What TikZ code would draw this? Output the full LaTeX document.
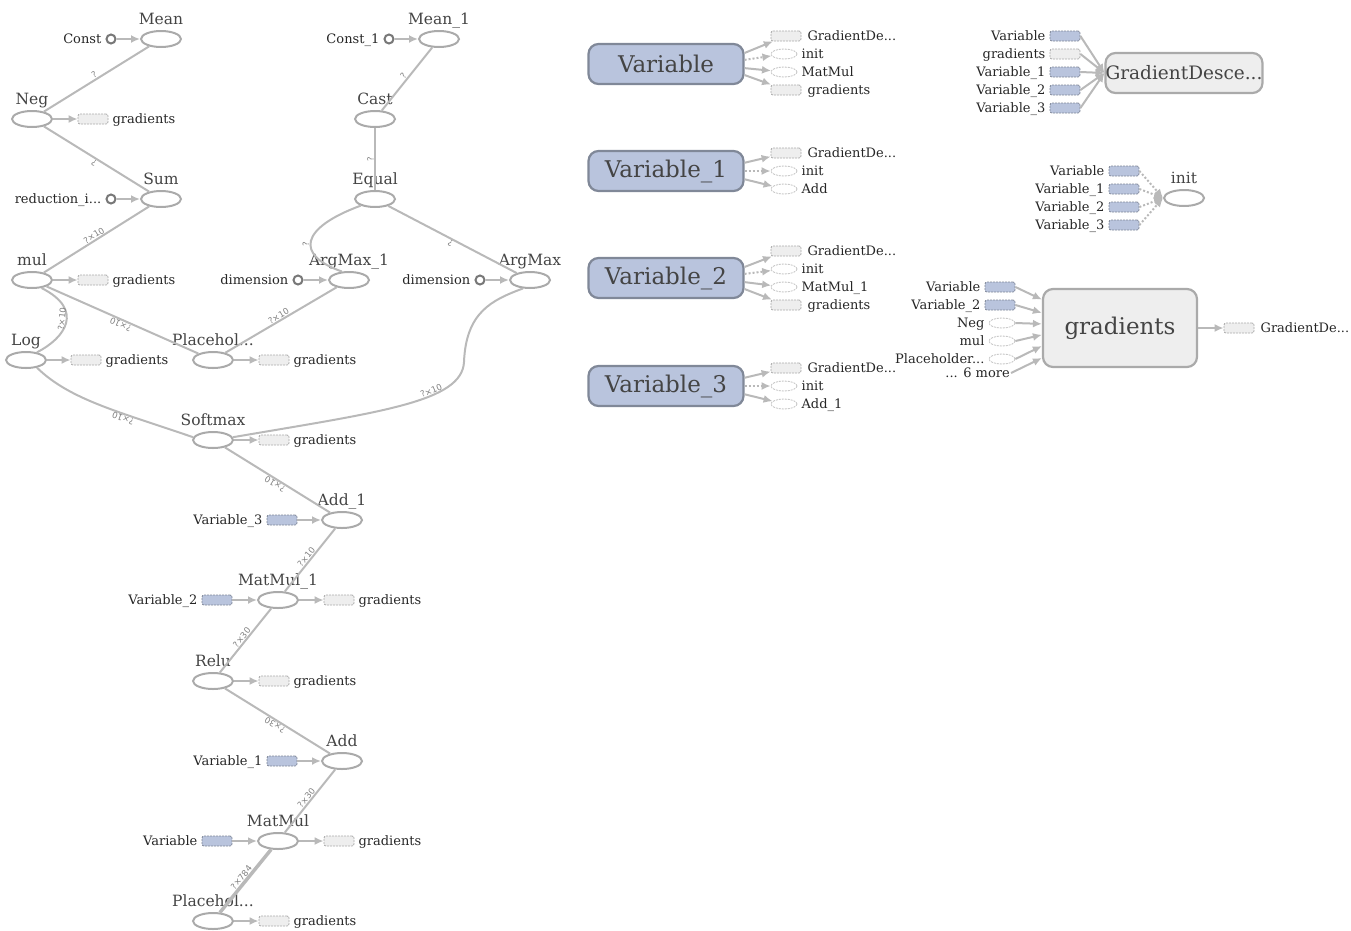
\documentclass[tikz,border=0pt]{standalone}
\usepackage{fontspec}
\setmainfont{DejaVu Serif}
\setsansfont{DejaVu Sans}
\usetikzlibrary{shapes.geometric,arrows.meta,positioning}
\definecolor{edgegray}{RGB}{185,185,185}
\definecolor{opgray}{RGB}{170,170,170}
\definecolor{cstgray}{RGB}{120,120,120}
\definecolor{boxfill}{RGB}{238,238,238}
\definecolor{varfill}{RGB}{185,196,221}
\definecolor{varline}{RGB}{128,136,152}
\definecolor{titlegray}{RGB}{68,68,68}
\begin{document}
\begin{tikzpicture}[
		x=1pt, y=-1pt,
		op/.style = {draw=opgray, ellipse, line width=2pt, minimum width=40pt, minimum height=16pt, inner sep=0pt},
		cst/.style = {draw=cstgray, circle, line width=2pt, minimum size=9pt, inner sep=0pt},
		gbox/.style = {draw=opgray, fill=boxfill, rounded corners=2pt, line width=0.8pt, dash pattern=on 2pt off 1pt, minimum width=30pt, minimum height=10pt, inner sep=0pt},
		vbox/.style = {gbox, draw=varline, fill=varfill},
		gell/.style = {draw=opgray!70, fill=white, ellipse, line width=0.8pt, dash pattern=on 2pt off 1pt, minimum width=26pt, minimum height=10pt, inner sep=0pt},
		varnode/.style = {draw=varline, fill=varfill, rounded corners=10pt, line width=2.2pt, minimum width=155pt, minimum height=40pt, text=titlegray, font=\fontsize{23}{23}\selectfont},
		meta/.style = {draw=opgray, fill=boxfill, rounded corners=10pt, line width=2.2pt, text=titlegray},
		title/.style = {text=titlegray, font=\fontsize{15.5}{16}\selectfont, inner sep=1pt, text height=11pt, text depth=4pt},
		txt/.style = {text=black!85, font=\fontsize{13}{14}\selectfont, inner sep=1pt, text height=10pt, text depth=2pt},
		edge/.style = {draw=edgegray, line width=2pt},
		arr/.style = {edge, -{Latex[length=9pt,width=8pt]}},
		elab/.style = {text=gray, font=\sffamily\fontsize{8.5}{9}\selectfont, sloped, allow upside down, inner sep=0.5pt, above},
		label distance=0pt,
		]
		\useasboundingbox (0,0) rectangle (1351,930);
		% main graph
		\node[op, label={[title]above:Mean}] (mean) at (161,39) {};
		\node[cst, label={[txt,label distance=3pt]left:Const}] (const) at (111,39) {};
		\node[op, label={[title]above:Neg}] (neg) at (32,119) {};
		\node[gbox, label={[txt,label distance=3pt]right:gradients}] (g1) at (93,119) {};
		\node[op, label={[title]above:Sum}] (sum) at (161,199) {};
		\node[cst, label={[txt,label distance=3pt]left:reduction\_i...}] (red) at (111,199) {};
		\node[op, label={[title]above:mul}] (mul) at (32,280) {};
		\node[gbox, label={[txt,label distance=3pt]right:gradients}] (g2) at (93,280) {};
		\node[op, label={[title]above:Log}] (log) at (26,360) {};
		\node[gbox, label={[txt,label distance=3pt]right:gradients}] (g3) at (86,360) {};
		\node[op, label={[title]above:Placehol...}] (ph1) at (213,360) {};
		\node[gbox, label={[txt,label distance=3pt]right:gradients}] (g4) at (274,360) {};
		\node[op, label={[title]above:Softmax}] (softmax) at (213,440) {};
		\node[gbox, label={[txt,label distance=3pt]right:gradients}] (g5) at (274,440) {};
		\node[op, label={[title]above:Add\_1}] (add1) at (342,520) {};
		\node[vbox, label={[txt,label distance=3pt]left:Variable\_3}] (v3) at (282,520) {};
		\node[op, label={[title]above:MatMul\_1}] (mm1) at (278,600) {};
		\node[vbox, label={[txt,label distance=3pt]left:Variable\_2}] (v2) at (217,600) {};
		\node[gbox, label={[txt,label distance=3pt]right:gradients}] (g6) at (339,600) {};
		\node[op, label={[title]above:Relu}] (relu) at (213,681) {};
		\node[gbox, label={[txt,label distance=3pt]right:gradients}] (g7) at (274,681) {};
		\node[op, label={[title]above:Add}] (add) at (342,761) {};
		\node[vbox, label={[txt,label distance=3pt]left:Variable\_1}] (v1) at (282,761) {};
		\node[op, label={[title]above:MatMul}] (mm) at (278,841) {};
		\node[vbox, label={[txt,label distance=3pt]left:Variable}] (v0) at (217,841) {};
		\node[gbox, label={[txt,label distance=3pt]right:gradients}] (g8) at (339,841) {};
		\node[op, label={[title]above:Placehol...}] (ph2) at (213,921) {};
		\node[gbox, label={[txt,label distance=3pt]right:gradients}] (g9) at (274,921) {};
		\node[op, label={[title]above:Mean\_1}] (mean1) at (439,39) {};
		\node[cst, label={[txt,label distance=3pt]left:Const\_1}] (const1) at (389,39) {};
		\node[op, label={[title]above:Cast}] (cast) at (375,119) {};
		\node[op, label={[title]above:Equal}] (equal) at (375,199) {};
		\node[op, label={[title]above:ArgMax\_1}] (am1) at (349,280) {};
		\node[cst, label={[txt,label distance=3pt]left:dimension}] (dim1) at (298,280) {};
		\node[op, label={[title]above:ArgMax}] (am) at (530,280) {};
		\node[cst, label={[txt,label distance=3pt]left:dimension}] (dim2) at (480,280) {};

		\draw[arr] (const) -- (mean);
		\draw[arr] (red) -- (sum);
		\draw[arr] (const1) -- (mean1);
		\draw[arr] (dim1) -- (am1);
		\draw[arr] (dim2) -- (am);
		\draw[arr] (v3) -- (add1);
		\draw[arr] (v2) -- (mm1);
		\draw[arr] (v1) -- (add);
		\draw[arr] (v0) -- (mm);
		\foreach \a/\b in {neg/g1, mul/g2, log/g3, ph1/g4, softmax/g5, mm1/g6, relu/g7, mm/g8, ph2/g9}
			\draw[arr] (\a) -- (\b);

		\draw[edge] (neg) -- node[elab] {?} (mean);
		\draw[edge] (sum) -- node[elab] {?} (neg);
		\draw[edge] (mul) -- node[elab] {?×10} (sum);
		\draw[edge] (log.35) .. controls (65,338) and (85,310) .. node[elab, pos=0.55] {?×10} (mul.-40);
		\draw[edge] (ph1) -- node[elab] {?×10} (mul);
		\draw[edge] (softmax.172) .. controls (120,412) and (70,400) .. node[elab, pos=0.35] {?×10} (log.-35);
		\draw[edge] (ph1) -- node[elab] {?×10} (am1);
		\draw[edge] (softmax.8) .. controls (380,412) and (462,402) .. node[elab, pos=0.65] {?×10} (464,362) .. controls (466,312) and (492,300) .. (am.-130);
		\draw[edge] (add1) -- node[elab] {?×10} (softmax);
		\draw[edge] (mm1) -- node[elab] {?×10} (add1);
		\draw[edge] (relu) -- node[elab] {?×30} (mm1);
		\draw[edge] (add) -- node[elab] {?×30} (relu);
		\draw[edge] (mm) -- node[elab] {?×30} (add);
		\draw[edge, line width=3.5pt] (ph2) -- node[elab] {?×784} (mm);
		\draw[edge] (cast) -- node[elab] {?} (mean1);
		\draw[edge] (equal) -- node[elab] {?} (cast);
		\draw[edge] (am1.130) .. controls (295,255) and (300,228) .. node[elab, pos=0.45] {?} (equal.205);
		\draw[edge] (am) -- node[elab] {?} (equal);

		% variables
		\node[varnode] (var0) at (666,64) {Variable};
		\node[varnode] (var1) at (666,171) {Variable\_1};
		\node[varnode] (var2) at (666,278) {Variable\_2};
		\node[varnode] (var3) at (666,386) {Variable\_3};

		\node[gbox, label={[txt,label distance=5pt]right:GradientDe...}] (a1) at (786,36) {};
		\node[gell, label={[txt,label distance=3pt]right:init}] (a2) at (784,54) {};
		\node[gell, label={[txt,label distance=3pt]right:MatMul}] (a3) at (784,72) {};
		\node[gbox, label={[txt,label distance=5pt]right:gradients}] (a4) at (786,90) {};
		\draw[arr] (var0.8) -- (a1);
		\draw[arr, dotted] (var0.3) -- (a2);
		\draw[arr] (var0.-3) -- (a3);
		\draw[arr] (var0.-8) -- (a4);

		\node[gbox, label={[txt,label distance=5pt]right:GradientDe...}] (b1) at (786,153) {};
		\node[gell, label={[txt,label distance=3pt]right:init}] (b2) at (784,171) {};
		\node[gell, label={[txt,label distance=3pt]right:Add}] (b3) at (784,189) {};
		\draw[arr] (var1.6) -- (b1);
		\draw[arr, dotted] (var1.0) -- (b2);
		\draw[arr] (var1.-6) -- (b3);

		\node[gbox, label={[txt,label distance=5pt]right:GradientDe...}] (c1) at (786,251) {};
		\node[gell, label={[txt,label distance=3pt]right:init}] (c2) at (784,269) {};
		\node[gell, label={[txt,label distance=3pt]right:MatMul\_1}] (c3) at (784,287) {};
		\node[gbox, label={[txt,label distance=5pt]right:gradients}] (c4) at (786,305) {};
		\draw[arr] (var2.8) -- (c1);
		\draw[arr, dotted] (var2.3) -- (c2);
		\draw[arr] (var2.-3) -- (c3);
		\draw[arr] (var2.-8) -- (c4);

		\node[gbox, label={[txt,label distance=5pt]right:GradientDe...}] (d1) at (786,368) {};
		\node[gell, label={[txt,label distance=3pt]right:init}] (d2) at (784,386) {};
		\node[gell, label={[txt,label distance=3pt]right:Add\_1}] (d3) at (784,404) {};
		\draw[arr] (var3.6) -- (d1);
		\draw[arr, dotted] (var3.0) -- (d2);
		\draw[arr] (var3.-6) -- (d3);

		% GradientDescent
		\node[meta, minimum width=156pt, minimum height=40pt, inner sep=0pt, font=\fontsize{18.5}{19}\selectfont] (gd) at (1184,73) {GradientDesce...};
		\node[vbox, label={[txt,label distance=3pt]left:Variable}] (e1) at (1065,36) {};
		\node[gbox, label={[txt,label distance=3pt]left:gradients}] (e2) at (1065,54) {};
		\node[vbox, label={[txt,label distance=3pt]left:Variable\_1}] (e3) at (1065,72) {};
		\node[vbox, label={[txt,label distance=3pt]left:Variable\_2}] (e4) at (1065,90) {};
		\node[vbox, label={[txt,label distance=3pt]left:Variable\_3}] (e5) at (1065,108) {};
		\foreach \n in {e1,e2,e3,e4,e5}
			\draw[arr] (\n.east) -- (gd.west);

		% init
		\node[op, label={[title]above:init}] (init) at (1184,198) {};
		\node[vbox, label={[txt,label distance=3pt]left:Variable}] (f1) at (1124,171) {};
		\node[vbox, label={[txt,label distance=3pt]left:Variable\_1}] (f2) at (1124,189) {};
		\node[vbox, label={[txt,label distance=3pt]left:Variable\_2}] (f3) at (1124,207) {};
		\node[vbox, label={[txt,label distance=3pt]left:Variable\_3}] (f4) at (1124,225) {};
		\foreach \n in {f1,f2,f3,f4}
			\draw[arr, dotted] (\n.east) -- (init.west);

		% gradients
		\node[meta, minimum width=154pt, minimum height=78pt, font=\fontsize{23}{23}\selectfont] (grad) at (1120,328) {gradients};
		\node[vbox, label={[txt,label distance=3pt]left:Variable}] (h1) at (1000,287) {};
		\node[vbox, label={[txt,label distance=3pt]left:Variable\_2}] (h2) at (1000,305) {};
		\node[gell, label={[txt,label distance=3pt]left:Neg}] (h3) at (1002,323) {};
		\node[gell, label={[txt,label distance=3pt]left:mul}] (h4) at (1002,341) {};
		\node[gell, label={[txt,label distance=3pt]left:Placeholder...}] (h5) at (1002,359) {};
		\node[txt, anchor=east] (h6) at (1011,373) {... 6 more};
		\draw[arr] (h1.east) -- (grad.160);
		\draw[arr] (h2.east) -- (grad.169);
		\draw[arr] (h3.east) -- (grad.177);
		\draw[arr] (h4.east) -- (grad.185);
		\draw[arr] (h5.east) -- (grad.193);
		\draw[arr] (h6.east) -- (grad.201);
		\node[gbox, label={[txt,label distance=5pt]right:GradientDe...}] (k1) at (1239,328) {};
		\draw[arr] (grad) -- (k1);
\end{tikzpicture}
\end{document}
